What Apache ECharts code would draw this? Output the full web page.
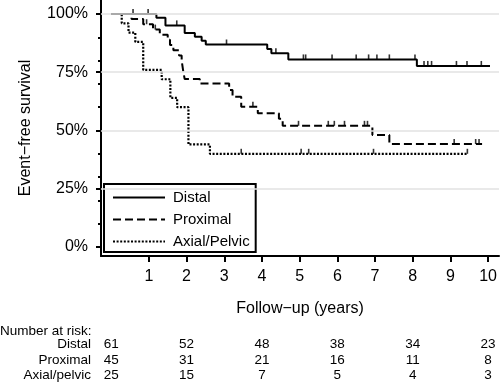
<!DOCTYPE html>
<html>
<head>
<meta charset="utf-8">
<script src="https://cdn.jsdelivr.net/npm/echarts@6/dist/echarts.min.js"></script>
<style>
html,body{margin:0;padding:0;background:#fff;}
#c{width:500px;height:383px;}
</style>
</head>
<body>
<div id="c"></div>
<script>
// ---- data ----
const groupNames = ['Distal', 'Proximal', 'Axial/Pelvic'];

const distalTimes = [0, 1.20, 1.44, 1.95, 2.22, 2.40, 2.51, 4.14, 4.25, 4.70, 8.11, 10.05];
const distalSurv  = [100, 98.4, 95.1, 91.8, 90.2, 88.5, 86.9, 85.0, 83.2, 80.5, 77.7, 77.7];
const distalCensor = [0.58, 0.98, 1.74, 3.06, 4.37, 5.10, 5.16, 5.86, 6.50, 6.83, 7.05, 7.38, 8.06, 8.30, 8.40, 8.50, 9.16, 9.44, 9.82];

const proxTimes = [0, 0.54, 0.85, 1.11, 1.29, 1.50, 1.56, 1.65, 1.80, 1.87, 1.91, 1.95, 2.35, 3.13, 3.22, 3.45, 3.89, 4.45, 4.55, 6.93, 7.38, 9.84];
const proxSurv  = [100, 97.8, 95.6, 93.3, 91.1, 88.9, 86.7, 84.4, 82.2, 80.0, 75.6, 72.1, 70.2, 67.4, 64.5, 60.2, 57.4, 55.0, 52.0, 48.1, 44.2, 44.2];
const proxCensor = [0.94, 1.17, 3.76, 4.97, 5.76, 5.92, 6.19, 6.72, 6.80, 9.10, 9.67, 9.76];

const axialTimes = [0, 0.28, 0.46, 0.64, 0.85, 1.34, 1.57, 1.75, 2.05, 2.62, 9.44];
const axialSurv  = [100, 96, 92, 88, 76, 72, 64, 60, 44, 40, 40];
const axialCensor = [3.45, 5.04, 5.24, 6.96, 9.45];

const xTicks = [1, 2, 3, 4, 5, 6, 7, 8, 9, 10];
const yTicks = [0, 25, 50, 75, 100];
const yMinorTicks = [10, 20, 30, 40, 60, 70, 80, 90];
const gridValues = [25, 50, 75, 100];

const riskTimes = [0, 2, 4, 6, 8, 10];
const riskLabels = ['Distal', 'Proximal', 'Axial/pelvic'];
const riskDistal = [61, 52, 48, 38, 34, 23];
const riskProximal = [45, 31, 21, 16, 11, 8];
const riskAxial = [25, 15, 7, 5, 4, 3];

// ---- helpers ----
const FONT = '"Liberation Sans", Arial, Helvetica, sans-serif';
function zip(t, s) { return t.map((v, i) => [v, s[i]]); }
function survAt(times, vals, t) {
  let v = vals[0];
  for (let i = 0; i < times.length; i++) { if (times[i] <= t) v = vals[i]; }
  return v;
}
function censorPts(c, times, vals) { return c.map(t => [t, survAt(times, vals, t)]); }

const lineStyles = [
  { color: '#000', width: 2, type: 'solid' },
  { color: '#000', width: 2, type: [8, 4] },
  { color: '#000', width: 2.2, type: [2, 1.6] }
];

const chart = echarts.init(document.getElementById('c'), null, { renderer: 'canvas' });

function censorSeries(name, pts) {
  return {
    name: name, type: 'scatter', data: pts, symbol: 'rect',
    symbolSize: [1.6, 5], symbolOffset: [0, -2.5],
    itemStyle: { color: '#000' }, silent: true, z: 4
  };
}

const option = {
  animation: false,
  backgroundColor: '#fff',
  textStyle: { fontFamily: FONT },
  grid: { left: 101, right: 0, top: 0, bottom: 127, containLabel: false },
  legend: {
    data: groupNames,
    orient: 'vertical',
    left: 104, top: 184,
    padding: [6, 6, 3, 8],
    itemWidth: 52, itemHeight: 14, itemGap: 7,
    borderColor: '#000', borderWidth: 2,
    backgroundColor: '#fff',
    itemStyle: { opacity: 0 },
    textStyle: { fontSize: 15, color: '#000', fontFamily: FONT, padding: [0, 0, 0, 3] },
    selectedMode: false
  },
  xAxis: {
    type: 'value', min: -0.27, max: 10.29,
    axisLine: { show: true, onZero: false, lineStyle: { color: '#000', width: 2 } },
    axisTick: { show: true, customValues: xTicks, length: 6, lineStyle: { color: '#000', width: 2 } },
    axisLabel: { customValues: xTicks, fontSize: 16, color: '#000', margin: 13, fontFamily: FONT },
    splitLine: { show: false },
    name: 'Follow\u2212up (years)', nameLocation: 'middle', nameGap: 45,
    nameTextStyle: { fontSize: 16, color: '#000', fontFamily: FONT }
  },
  yAxis: [{
    type: 'value', min: -3.86, max: 106, position: 'left',
    axisLine: { show: true, onZero: false, lineStyle: { color: '#000', width: 2 } },
    axisTick: { show: true, customValues: yTicks, length: 5, lineStyle: { color: '#000', width: 2 } },
    axisLabel: { customValues: yTicks, formatter: '{value}%', fontSize: 16, color: '#000', margin: 13, fontFamily: FONT },
    splitLine: { show: false },
    name: 'Event\u2212free survival', nameLocation: 'middle', nameGap: 67,
    nameTextStyle: { fontSize: 16, color: '#000', fontFamily: FONT }
  }, {
    type: 'value', min: -3.86, max: 106, position: 'left', offset: 0,
    axisLine: { show: false, onZero: false },
    axisTick: { show: true, customValues: yMinorTicks, length: 3, lineStyle: { color: '#000', width: 2 } },
    axisLabel: { show: false },
    splitLine: { show: false }
  }],
  series: [
    {
      name: '_grid', type: 'line', data: [], z: 1, silent: true,
      markLine: {
        silent: true, symbol: ['none', 'none'], label: { show: false },
        lineStyle: { color: '#e2e2e2', width: 1.5, type: 'solid' },
        data: gridValues.map(v => ({ yAxis: v }))
      }
    },
    { name: groupNames[0], type: 'line', step: 'end', symbol: 'none', data: zip(distalTimes, distalSurv), lineStyle: lineStyles[0], itemStyle: { color: '#000' }, z: 3 },
    { name: groupNames[1], type: 'line', step: 'end', symbol: 'none', data: zip(proxTimes, proxSurv), lineStyle: lineStyles[1], itemStyle: { color: '#000' }, z: 3 },
    { name: groupNames[2], type: 'line', step: 'end', symbol: 'none', data: zip(axialTimes, axialSurv), lineStyle: lineStyles[2], itemStyle: { color: '#000' }, z: 3 },
    censorSeries('_c1', censorPts(distalCensor, distalTimes, distalSurv)),
    censorSeries('_c2', censorPts(proxCensor, proxTimes, proxSurv)),
    censorSeries('_c3', censorPts(axialCensor, axialTimes, axialSurv))
  ]
};
chart.setOption(option);

// ---- number at risk table ----
const riskRows = [riskDistal, riskProximal, riskAxial];
const rowY = [344, 360, 375];
const tfont = '13.5px ' + FONT;
const g = [];
g.push({ type: 'text', x: 0, y: 331, style: { text: 'Number at risk:', fill: '#000', font: tfont, align: 'left', verticalAlign: 'middle' } });
riskRows.forEach((row, r) => {
  g.push({ type: 'text', x: 91, y: rowY[r], style: { text: riskLabels[r], fill: '#000', font: tfont, align: 'right', verticalAlign: 'middle' } });
  row.forEach((n, i) => {
    const px = chart.convertToPixel({ xAxisIndex: 0 }, riskTimes[i]);
    g.push({ type: 'text', x: px, y: rowY[r], style: { text: String(n), fill: '#000', font: tfont, align: 'center', verticalAlign: 'middle' } });
  });
});
chart.setOption({ graphic: g });
</script>
</body>
</html>
